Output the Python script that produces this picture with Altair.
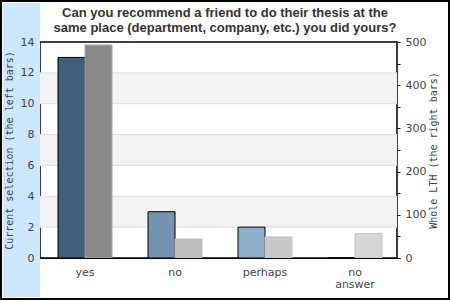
import altair as alt
import pandas as pd

categories = ["yes", "no", "perhaps", "no answer"]
current_values = [13, 3, 2, 0]
whole_values = [493, 44, 49, 57]
left_colors = ["#3f5f7d", "#7393ae", "#8fb0cb", "#a9c4da"]
right_colors = ["#888888", "#bdbdbd", "#c8c8c8", "#d6d6d6"]
right_strokes = ["#a8a8a8", "#bdbdbd", "#c8c8c8", "#c4c4c4"]
band_lo = [2, 6, 10]
band_hi = [4, 8, 12]
grid_vals = [2, 4, 6, 8, 10, 12]
title_lines = ["Can you recommend a friend to do their thesis at the",
               "same place (department, company, etc.) you did yours?"]

df = pd.DataFrame({"cat": categories, "cur": current_values, "whole": whole_values})
bands = pd.DataFrame({"lo": band_lo, "hi": band_hi})
grid = pd.DataFrame({"g": grid_vals})
one = pd.DataFrame({"a": [0]})

W, H = 357, 216
xscale = alt.Scale(domain=categories, range=[0, 360], paddingInner=0, paddingOuter=0)
xaxis = alt.Axis(ticks=False, domain=True, domainColor="black", labelAngle=0,
                 labelPadding=8, labelColor="#444", labelFont="DejaVu Sans",
                 labelFontSize=11, labelLineHeight=12, grid=False, zindex=1,
                 labelExpr="datum.value == 'no answer' ? ['no', 'answer'] : datum.value")
xenc = alt.X("cat:N", scale=xscale, sort=categories, title=None, axis=xaxis)

yl_scale = alt.Scale(domain=[0, 14], nice=False)
yr_scale = alt.Scale(domain=[0, 500], nice=False)

strip = alt.Chart(one).mark_rect(color="#cce8ff", clip=False).encode(
    x=alt.value(-37), x2=alt.value(0), y=alt.value(-39), y2=alt.value(255))
border = alt.Chart(one).mark_rect(fill=None, stroke="black", strokeWidth=2, clip=False).encode(
    x=alt.value(-39), x2=alt.value(409), y=alt.value(-41), y2=alt.value(257))
title = alt.Chart(one).mark_text(
    text=title_lines, font="Liberation Sans", fontSize=13, fontWeight="bold",
    color="#333333", baseline="top", align="center", lineHeight=15, clip=False
).encode(x=alt.value(185), y=alt.value(-35))

band_layer = alt.Chart(bands).mark_rect(color="#f2f2f2").encode(
    x=alt.value(0), x2=alt.value(W),
    y=alt.Y("lo:Q", scale=yl_scale, axis=None), y2="hi:Q")
grid_layer = alt.Chart(grid).mark_rule(color="#e0e0e0", strokeWidth=1).encode(
    x=alt.value(0), x2=alt.value(W), y=alt.Y("g:Q", scale=yl_scale, axis=None))

left_bars = alt.Chart(df).mark_bar(width=27, xOffset=-13.5, stroke="black", strokeWidth=1).encode(
    x=xenc,
    y=alt.Y("cur:Q", scale=yl_scale,
            axis=alt.Axis(orient="left", ticks=False, domain=False, grid=False, zindex=2,
                          values=[0, 2, 4, 6, 8, 10, 12, 14], labelPadding=6,
                          labelColor="#444", labelFont="DejaVu Sans", labelFontSize=11,
                          title="Current selection (the left bars)", titleFont="DejaVu Sans Mono",
                          titleFontSize=10, titleFontWeight="normal", titleColor="#334455",
                          titleAngle=-90, titleX=-31, titleY=H / 2, titleAlign="center",
                          titleBaseline="middle")),
    color=alt.Color("cat:N", scale=alt.Scale(domain=categories, range=left_colors), legend=None),
)

right_bars = alt.Chart(df).mark_bar(width=27, xOffset=13.5, strokeWidth=1).encode(
    x=xenc,
    y=alt.Y("whole:Q", scale=yr_scale,
            axis=alt.Axis(orient="right", ticks=True, tickSize=3, tickColor="black", domain=False,
                          grid=False, values=list(range(0, 501, 50)), labelPadding=5, zindex=1,
                          labelExpr="datum.value % 100 == 0 ? datum.label : ''",
                          labelColor="#444", labelFont="DejaVu Sans", labelFontSize=11,
                          title="Whole LTH (the right bars)", titleFont="DejaVu Sans Mono",
                          titleFontSize=10, titleFontWeight="normal", titleColor="#334455",
                          titleAngle=-90, titleX=36, titleY=H / 2, titleAlign="center",
                          titleBaseline="middle")),
    fill=alt.Fill("cat:N", scale=alt.Scale(domain=categories, range=right_colors), legend=None),
    stroke=alt.Stroke("cat:N", scale=alt.Scale(domain=categories, range=right_strokes), legend=None),
)

chart = alt.layer(strip, band_layer, grid_layer, left_bars, right_bars, border, title).resolve_scale(
    y="independent", color="independent", fill="independent", stroke="independent"
).properties(
    width=W, height=H,
    autosize=alt.AutoSizeParams(type="none"),
    padding={"left": 40, "top": 42, "right": 53, "bottom": 42},
).configure(background="white", view=alt.ViewConfig(stroke="black", strokeWidth=1.5))

chart.save("out.html", embed_options={"renderer": "svg", "actions": False})
